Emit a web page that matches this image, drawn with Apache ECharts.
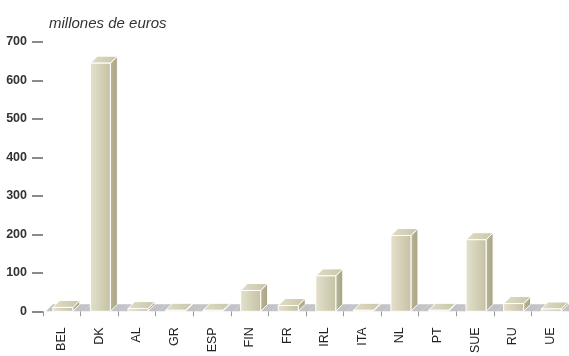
<!DOCTYPE html>
<html>
<head>
<meta charset="utf-8">
<script src="https://cdn.jsdelivr.net/npm/echarts@6/dist/echarts.min.js"></script>
<style>
  html, body { margin: 0; padding: 0; background: #fff; }
  #chart { width: 569px; height: 356px; }
</style>
</head>
<body>
<div id="chart"></div>
<script>
// Country codes along the horizontal axis
const categories = ['BEL', 'DK', 'AL', 'GR', 'ESP', 'FIN', 'FR', 'IRL', 'ITA', 'NL', 'PT', 'SUE', 'RU', 'UE'];
// Amounts in millions of euros
const values = [10, 645, 7, 1, 2, 54, 15, 92, 1, 197, 1, 186, 20, 6];
// Value axis ticks
const yTicks = [0, 100, 200, 300, 400, 500, 600, 700];

const FONT = '"Liberation Sans", Arial, Helvetica, sans-serif';
const DEPTH = 7;

// Grey floor strip running under every category
function renderFloor(params, api) {
  const idx = api.value(0);
  const base = api.coord([idx, 0]);
  const bw = api.size([1, 0])[0];
  const l = base[0] - bw / 2 + 3;
  const r = base[0] + bw / 2 + 3;
  const y0 = base[1];
  return {
    type: 'polygon',
    shape: { points: [[l, y0], [r, y0], [r + DEPTH, y0 - DEPTH], [l + DEPTH, y0 - DEPTH]] },
    style: { fill: '#c2c2c7' }
  };
}

// Box-shaped bar: front face, side face and top face
function renderBox(params, api) {
  const idx = api.value(0);
  const val = api.value(1);
  const top = api.coord([idx, val]);
  const base = api.coord([idx, 0]);
  const cx = top[0] + 1;
  const l = cx - 10, r = cx + 10;
  const yt = Math.min(top[1], base[1] - 1), yb = base[1];
  const d = DEPTH;
  return {
    type: 'group',
    children: [
      {
        type: 'polygon',
        shape: { points: [[r, yb], [r + d, yb - d], [r + d, yt - d], [r, yt]] },
        style: {
          fill: new echarts.graphic.LinearGradient(0, 0, 1, 0, [
            { offset: 0, color: '#bab696' },
            { offset: 1, color: '#a6a282' }
          ]),
          stroke: '#ffffff', lineWidth: 1
        }
      },
      {
        type: 'polygon',
        shape: { points: [[l, yt], [r, yt], [r + d, yt - d], [l + d, yt - d]] },
        style: {
          fill: new echarts.graphic.LinearGradient(0, 0, 1, 0, [
            { offset: 0, color: '#e0ddc6' },
            { offset: 1, color: '#c9c5a9' }
          ]),
          stroke: '#ffffff', lineWidth: 1
        }
      },
      {
        type: 'rect',
        shape: { x: l, y: yt, width: r - l, height: yb - yt },
        style: {
          fill: new echarts.graphic.LinearGradient(0, 0, 1, 0, [
            { offset: 0, color: '#e4e1cd' },
            { offset: 1, color: '#c5c1a4' }
          ]),
          stroke: '#ffffff', lineWidth: 1
        }
      }
    ]
  };
}

const chart = echarts.init(document.getElementById('chart'), null, { renderer: 'canvas' });
chart.setOption({
  animation: false,
  backgroundColor: '#ffffff',
  title: {
    text: 'millones de euros',
    left: 44, top: 11,
    textStyle: { fontFamily: FONT, fontStyle: 'italic', fontWeight: 'normal', fontSize: 15, color: '#333333' }
  },
  grid: { left: 43, right: -5, top: 42, bottom: 42, containLabel: false },
  xAxis: {
    type: 'category',
    data: categories,
    offset: 3,
    axisLine: { show: false },
    axisTick: { show: true, length: 5, interval: 0, lineStyle: { color: '#999999', width: 1 } },
    axisLabel: {
      interval: 0, rotate: 90, margin: 13,
      fontFamily: FONT, fontSize: 12.5, color: '#222222'
    }
  },
  yAxis: {
    type: 'value',
    min: yTicks[0], max: yTicks[yTicks.length - 1], interval: 100,
    axisLine: { show: false },
    splitLine: { show: false },
    axisTick: { show: true, length: 11, lineStyle: { color: '#8a8a8a', width: 2 } },
    axisLabel: { margin: 16, fontFamily: FONT, fontSize: 12.5, fontWeight: 'bold', color: '#333333' }
  },
  series: [
    {
      type: 'custom',
      renderItem: renderFloor,
      data: categories.map((c, i) => [i, 0]),
      z: 1, silent: true
    },
    {
      type: 'custom',
      renderItem: renderBox,
      data: values.map((v, i) => [i, v]),
      z: 2, silent: true
    }
  ]
});
</script>
</body>
</html>
